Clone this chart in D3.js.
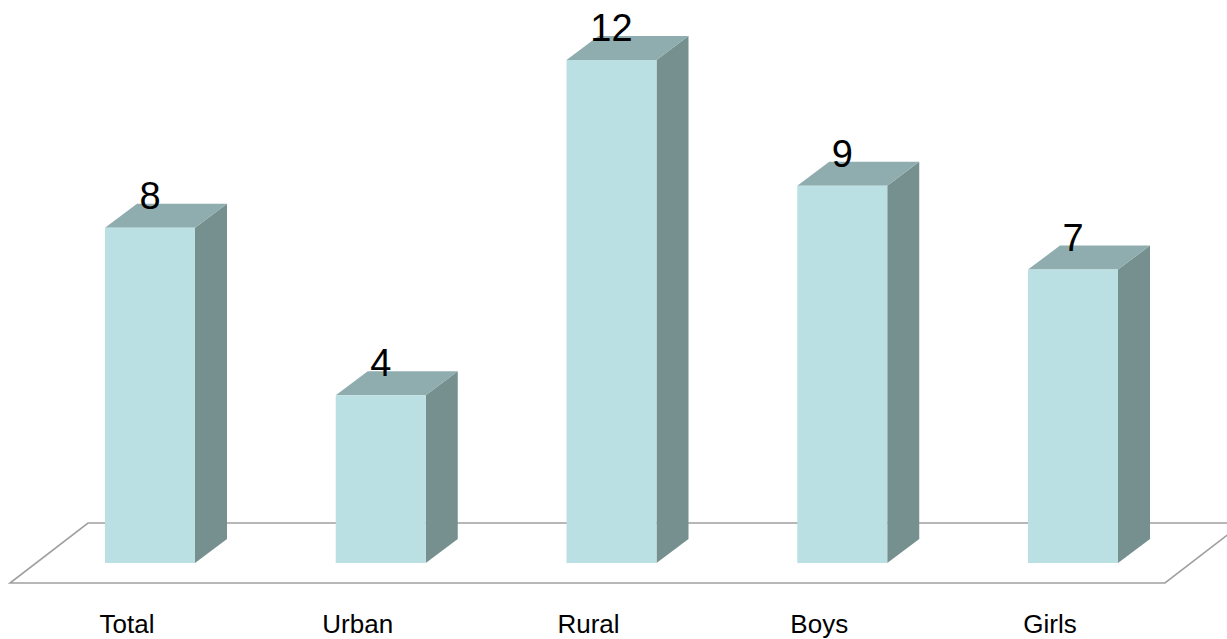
<!DOCTYPE html>
<html>
<head>
<meta charset="utf-8">
<script src="https://cdn.jsdelivr.net/npm/d3@7"></script>
<style>
  html, body { margin: 0; padding: 0; background: #fff; }
  svg { display: block; }
</style>
</head>
<body>
<div id="chart"></div>
<script>
// Category labels and values
var CATEGORIES = ["Total", "Urban", "Rural", "Boys", "Girls"];
var VALUES = [8, 4, 12, 9, 7];

var width = 1227, height = 639;

var svg = d3.select("#chart").append("svg")
  .attr("width", width)
  .attr("height", height);

// Scales: x gives bar front centre, y gives height of front face
var x = d3.scalePoint().domain(CATEGORIES).range([150, 1073]);
var y = d3.scaleLinear().domain([0, 12]).range([563, 60]);

var barW = 90;           // front face width
var depthX = 32, depthY = 24;   // bar depth offset
var floor = { left: 10, right: 1165, front: 583, dx: 78, dy: 60 };

// Floor plane (parallelogram)
svg.append("path")
  .attr("d", "M" + floor.left + "," + floor.front +
    "L" + floor.right + "," + floor.front +
    "L" + (floor.right + floor.dx) + "," + (floor.front - floor.dy) +
    "L" + (floor.left + floor.dx) + "," + (floor.front - floor.dy) + "Z")
  .attr("fill", "#fff")
  .attr("stroke", "#a0a0a0")
  .attr("stroke-width", 1.6);

var bars = svg.selectAll(".bar")
  .data(CATEGORIES.map(function(c, i) { return { cat: c, val: VALUES[i] }; }))
  .enter().append("g")
  .attr("class", "bar");

// side face
bars.append("path")
  .attr("d", function(d) {
    var x1 = x(d.cat) + barW / 2, yt = y(d.val), yb = y(0);
    return "M" + x1 + "," + yb + "L" + x1 + "," + yt +
      "L" + (x1 + depthX) + "," + (yt - depthY) +
      "L" + (x1 + depthX) + "," + (yb - depthY) + "Z";
  })
  .attr("fill", "#768f8f");

// top face
bars.append("path")
  .attr("d", function(d) {
    var x0 = x(d.cat) - barW / 2, x1 = x(d.cat) + barW / 2, yt = y(d.val);
    return "M" + x0 + "," + yt + "L" + x1 + "," + yt +
      "L" + (x1 + depthX) + "," + (yt - depthY) +
      "L" + (x0 + depthX) + "," + (yt - depthY) + "Z";
  })
  .attr("fill", "#8fadae");

// front face
bars.append("rect")
  .attr("x", function(d) { return x(d.cat) - barW / 2; })
  .attr("y", function(d) { return y(d.val); })
  .attr("width", barW)
  .attr("height", function(d) { return y(0) - y(d.val); })
  .attr("fill", "#bbe0e3");

// value labels
bars.append("text")
  .attr("x", function(d) { return x(d.cat); })
  .attr("y", function(d) { return y(d.val) - 19; })
  .attr("text-anchor", "middle")
  .attr("font-family", "'Liberation Sans', Arial, sans-serif")
  .attr("font-size", "38px")
  .attr("fill", "#000")
  .text(function(d) { return d.val; });

// category labels
svg.selectAll(".cat")
  .data(CATEGORIES)
  .enter().append("text")
  .attr("class", "cat")
  .attr("x", function(d) { return x(d) - 23; })
  .attr("y", 633)
  .attr("text-anchor", "middle")
  .attr("font-family", "'Liberation Sans', Arial, sans-serif")
  .attr("font-size", "26px")
  .attr("fill", "#000")
  .text(function(d) { return d; });
</script>
</body>
</html>
